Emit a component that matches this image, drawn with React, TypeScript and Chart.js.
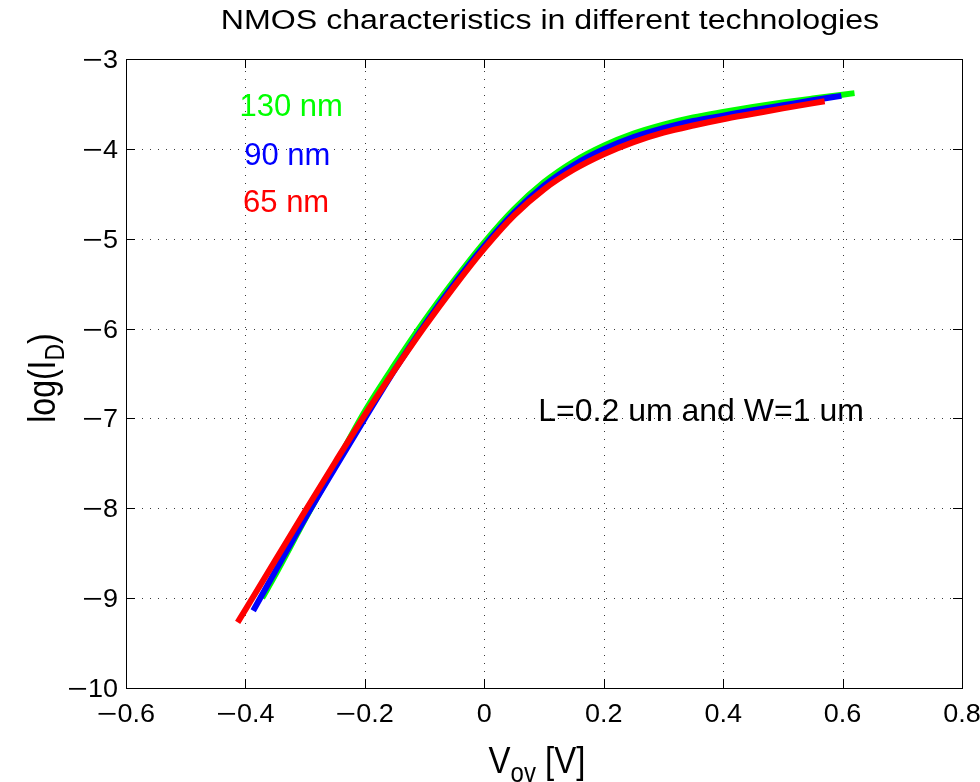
import React, { useEffect, useRef } from 'react';
import { Chart, registerables } from 'chart.js';

Chart.register(...registerables);

// ---- data ----
const VOV_130 = [-0.372, -0.35, -0.3, -0.25, -0.2, -0.15, -0.1, -0.05, 0, 0.05, 0.1, 0.15, 0.2, 0.25, 0.3, 0.35, 0.4, 0.45, 0.5, 0.55, 0.62];
const LOGID_130 = [-9.0, -8.74, -8.12, -7.52, -6.92, -6.4, -5.91, -5.46, -5.04, -4.67, -4.37, -4.14, -3.965, -3.83, -3.73, -3.65, -3.59, -3.535, -3.485, -3.44, -3.38];

const VOV_90 = [-0.387, -0.35, -0.3, -0.25, -0.2, -0.15, -0.1, -0.05, 0, 0.05, 0.1, 0.15, 0.2, 0.25, 0.3, 0.35, 0.4, 0.45, 0.5, 0.55, 0.598];
const LOGID_90 = [-9.14, -8.7, -8.11, -7.55, -7.0, -6.46, -5.96, -5.5, -5.08, -4.71, -4.41, -4.18, -4.005, -3.87, -3.77, -3.69, -3.63, -3.57, -3.515, -3.46, -3.41];

const VOV_65 = [-0.413, -0.35, -0.3, -0.25, -0.2, -0.15, -0.1, -0.05, 0, 0.05, 0.1, 0.15, 0.2, 0.25, 0.3, 0.35, 0.4, 0.45, 0.5, 0.57];
const LOGID_65 = [-9.27, -8.58, -8.03, -7.49, -6.96, -6.46, -5.98, -5.53, -5.11, -4.74, -4.45, -4.23, -4.06, -3.925, -3.82, -3.74, -3.67, -3.61, -3.55, -3.47];

const SERIES_NAMES = ['130 nm', '90 nm', '65 nm'];
const SERIES_COLORS = ['#00ff00', '#0000ff', '#ff0000'];

const X_MIN = -0.6, X_MAX = 0.8, X_STEP = 0.2;
const Y_MIN = -10, Y_MAX = -3, Y_STEP = 1;

const TITLE = 'NMOS characteristics in different technologies';
const NOTE = 'L=0.2 um and W=1 um';
// annotation anchors in data coordinates (left, baseline)
const LABEL_POS = [
  [-0.41, -3.634],
  [-0.402, -4.18],
  [-0.404, -4.70],
];
const NOTE_POS = [0.0905, -7.03];

const FONT = '"Liberation Sans", Arial, Helvetica, sans-serif';

const pts = (xs: number[], ys: number[]) => xs.map((x, i) => ({ x, y: ys[i] }));

const fmt = (v: number) => {
  const r = Math.round(v * 10) / 10;
  if (Math.abs(r) < 1e-9) return '0';
  return r < 0 ? '\u2212' + String(Math.abs(r)) : String(r);
};

function drawText(ctx: CanvasRenderingContext2D, text: string, x: number, y: number, size: number, sx: number, sy: number, align: CanvasTextAlign) {
  ctx.save();
  ctx.translate(x, y);
  ctx.scale(sx, sy);
  ctx.font = `${size}px ${FONT}`;
  ctx.textAlign = align;
  ctx.textBaseline = 'alphabetic';
  ctx.fillText(text, 0, 0);
  ctx.restore();
}

function textW(ctx: CanvasRenderingContext2D, text: string, size: number) {
  ctx.font = `${size}px ${FONT}`;
  return ctx.measureText(text).width;
}

// tick label with a slightly wider minus, like the reference rendering
function drawTick(ctx: CanvasRenderingContext2D, label: string, x: number, y: number, size: number, sx: number, align: 'center' | 'right') {
  const neg = label.startsWith('\u2212');
  const rest = neg ? label.slice(1) : label;
  const MSX = 1.3;
  const wm = neg ? textW(ctx, '\u2212', size) * sx * MSX : 0;
  const wr = textW(ctx, rest, size) * sx;
  const total = wm + wr;
  let x0 = align === 'center' ? x - total / 2 : x - total;
  if (neg) { drawText(ctx, '\u2212', x0, y, size, sx * MSX, 1, 'left'); x0 += wm; }
  drawText(ctx, rest, x0, y, size, sx, 1, 'left');
}

const decor = {
  id: 'matlabDecor',
  beforeDatasetsDraw(chart: any) {
    const { ctx, chartArea: a, scales } = chart;
    const xs = scales.x, ys = scales.y;
    ctx.save();
    ctx.strokeStyle = '#3a3a3a';
    ctx.lineWidth = 1;
    ctx.setLineDash([1, 7]);
    xs.ticks.forEach((t: any) => {
      const px = Math.round(xs.getPixelForValue(t.value)) + 0.5;
      ctx.beginPath();
      ctx.moveTo(px, a.bottom);
      ctx.lineTo(px, a.top);
      ctx.stroke();
    });
    ys.ticks.forEach((t: any) => {
      const py = Math.round(ys.getPixelForValue(t.value)) + 0.5;
      ctx.beginPath();
      ctx.moveTo(a.left, py);
      ctx.lineTo(a.right, py);
      ctx.stroke();
    });
    ctx.restore();
  },
  afterDatasetsDraw(chart: any) {
    const { ctx, chartArea: a, scales } = chart;
    const xs = scales.x, ys = scales.y;
    ctx.save();
    // box
    ctx.strokeStyle = '#000';
    ctx.lineWidth = 1;
    ctx.setLineDash([]);
    ctx.strokeRect(Math.round(a.left) + 0.5, Math.round(a.top) + 0.5, Math.round(a.right - a.left), Math.round(a.bottom - a.top));
    // inward ticks
    const TL = 9;
    ctx.beginPath();
    xs.ticks.forEach((t: any) => {
      const px = Math.round(xs.getPixelForValue(t.value)) + 0.5;
      ctx.moveTo(px, a.bottom); ctx.lineTo(px, a.bottom - TL);
      ctx.moveTo(px, a.top); ctx.lineTo(px, a.top + TL);
    });
    ys.ticks.forEach((t: any) => {
      const py = Math.round(ys.getPixelForValue(t.value)) + 0.5;
      ctx.moveTo(a.left, py); ctx.lineTo(a.left + TL, py);
      ctx.moveTo(a.right, py); ctx.lineTo(a.right - TL, py);
    });
    ctx.stroke();

    ctx.fillStyle = '#000';
    // tick labels from the library's scales
    const TS = 25, TSX = 1.08;
    xs.ticks.forEach((t: any) => {
      drawTick(ctx, fmt(t.value), xs.getPixelForValue(t.value), a.bottom + 34, TS, TSX, 'center');
    });
    ys.ticks.forEach((t: any) => {
      drawTick(ctx, fmt(t.value), a.left - 8, ys.getPixelForValue(t.value) + 9, TS, TSX, 'right');
    });

    // title
    drawText(ctx, TITLE, 550, 29, 27, 1.19, 1, 'center');

    // x label: V_ov [V]
    {
      const B = 33, S = 24, SY = 1.12;
      const wV = textW(ctx, 'V', B), wSub = textW(ctx, 'ov', S), wRest = textW(ctx, ' [V]', B);
      let x0 = 537 - (wV + wSub + wRest) / 2;
      const by = 773;
      drawText(ctx, 'V', x0, by, B, 1, SY, 'left'); x0 += wV;
      drawText(ctx, 'ov', x0, by + 9, S, 1, SY, 'left'); x0 += wSub;
      drawText(ctx, ' [V]', x0, by, B, 1, SY, 'left');
    }

    // y label: log(I_D)
    {
      const B = 32, S = 23, SY = 1.2;
      ctx.save();
      ctx.translate(55, 378);
      ctx.rotate(-Math.PI / 2);
      const w1 = textW(ctx, 'log(I', B), w2 = textW(ctx, 'D', S), w3 = textW(ctx, ')', B);
      let yx = -(w1 + w2 + w3) / 2;
      drawText(ctx, 'log(I', yx, 0, B, 1, SY, 'left'); yx += w1;
      drawText(ctx, 'D', yx, 9, S, 1, SY, 'left'); yx += w2;
      drawText(ctx, ')', yx, 0, B, 1, SY, 'left');
      ctx.restore();
    }

    // series labels
    SERIES_NAMES.forEach((n, i) => {
      ctx.fillStyle = SERIES_COLORS[i];
      drawText(ctx, n, xs.getPixelForValue(LABEL_POS[i][0]), ys.getPixelForValue(LABEL_POS[i][1]), 31, 1, 1, 'left');
    });
    ctx.fillStyle = '#000';
    drawText(ctx, NOTE, xs.getPixelForValue(NOTE_POS[0]), ys.getPixelForValue(NOTE_POS[1]), 32, 1, 1, 'left');
    ctx.restore();
  },
};

export default function App() {
  const ref = useRef<HTMLCanvasElement | null>(null);
  useEffect(() => {
    if (!ref.current) return;
    const mk = (xs: number[], ys: number[], i: number) => ({
      label: SERIES_NAMES[i],
      data: pts(xs, ys),
      borderColor: SERIES_COLORS[i],
      backgroundColor: SERIES_COLORS[i],
      borderWidth: 6,
      pointRadius: 0,
      borderCapStyle: 'butt' as const,
      cubicInterpolationMode: 'monotone' as const,
      fill: false,
      order: 2 - i,
    });
    const chart = new Chart(ref.current, {
      type: 'line',
      data: {
        datasets: [mk(VOV_130, LOGID_130, 0), mk(VOV_90, LOGID_90, 1), mk(VOV_65, LOGID_65, 2)],
      },
      options: {
        responsive: false,
        animation: false,
        devicePixelRatio: 1,
        layout: { padding: { left: 0, top: 59, right: 18, bottom: 0 } },
        plugins: { legend: { display: false }, title: { display: false }, tooltip: { enabled: false } },
        scales: {
          x: {
            type: 'linear',
            min: X_MIN, max: X_MAX,
            ticks: { stepSize: X_STEP, display: false, autoSkip: false },
            grid: { display: false, drawTicks: false, tickLength: 0 },
            border: { display: false },
            afterFit: (s: any) => { s.height = 94; },
          },
          y: {
            type: 'linear',
            min: Y_MIN, max: Y_MAX,
            ticks: { stepSize: Y_STEP, display: false, autoSkip: false },
            grid: { display: false, drawTicks: false, tickLength: 0 },
            border: { display: false },
            afterFit: (s: any) => { s.width = 126; },
          },
        },
      },
      plugins: [decor],
    });
    return () => chart.destroy();
  }, []);
  return (
    <div style={{ position: 'absolute', left: 0, top: 0, width: 980, height: 782, background: '#fff' }}>
      <canvas ref={ref} width={980} height={782} />
    </div>
  );
}
